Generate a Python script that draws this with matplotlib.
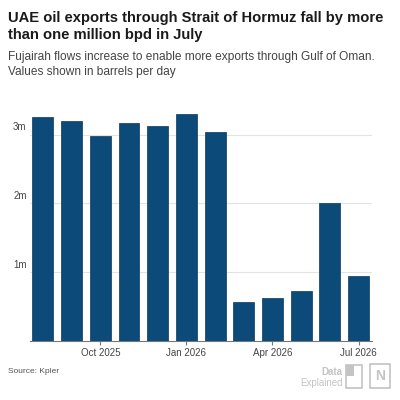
import matplotlib
matplotlib.use("Agg")
import matplotlib.pyplot as plt
from matplotlib.patches import Rectangle
import numpy as np

months = ["Aug 2025", "Sep 2025", "Oct 2025", "Nov 2025", "Dec 2025", "Jan 2026",
          "Feb 2026", "Mar 2026", "Apr 2026", "May 2026", "Jun 2026", "Jul 2026"]
values = [3.25, 3.20, 2.98, 3.17, 3.12, 3.30, 3.03, 0.56, 0.63, 0.73, 2.01, 0.95]  # million bpd
tick_months = ["Oct 2025", "Jan 2026", "Apr 2026", "Jul 2026"]
y_ticks = [1, 2, 3]
y_labels = ["1m", "2m", "3m"]

plt.rcParams['font.family'] = ['Liberation Sans', 'DejaVu Sans']

fig = plt.figure(figsize=(4, 4), dpi=100)
fig.patch.set_facecolor("white")

ax = fig.add_axes([0.075, 0.1475, 0.855, 0.585])
x = np.arange(len(months))
ax.bar(x, values, width=0.73, color="#0b4a79", edgecolor="#08385e", linewidth=0.5, zorder=3)
ax.set_xlim(-0.45, len(months) - 0.53)
ax.set_ylim(0, 3.4)

for sp in ["top", "right", "left"]:
    ax.spines[sp].set_visible(False)
ax.spines["bottom"].set_color("#777777")
ax.spines["bottom"].set_linewidth(0.8)

ax.set_yticks(y_ticks)
ax.set_yticklabels([])
ax.tick_params(axis="y", length=0)
ax.grid(axis="y", color="#e3e3e3", linewidth=0.8, zorder=0)
for yv, lab in zip(y_ticks, y_labels):
    ax.text(-0.01, yv + 0.03, lab, transform=ax.get_yaxis_transform(),
            ha="right", va="bottom", fontsize=7, color="#444444")

tick_pos = [months.index(m) for m in tick_months]
ax.set_xticks(tick_pos)
ax.set_xticklabels(tick_months, fontsize=7, color="#444444")
ax.tick_params(axis="x", length=3, color="#777777", width=0.8, pad=2)

fig.text(0.02, 0.972, "UAE oil exports through Strait of Hormuz fall by more\nthan one million bpd in July",
         ha="left", va="top", fontsize=10.6, fontweight="bold", color="#1a1a1a", linespacing=1.3)
fig.text(0.02, 0.872, "Fujairah flows increase to enable more exports through Gulf of Oman.\nValues shown in barrels per day",
         ha="left", va="top", fontsize=8.6, color="#444444", linespacing=1.35)
fig.text(0.02, 0.072, "Source: Kpler", ha="left", va="center", fontsize=6, color="#555555")

# Logo (decorative)
fig.text(0.857, 0.07, "Data", ha="right", va="center", fontsize=7, color="#c4c4c4", fontweight="bold")
fig.text(0.857, 0.043, "Explained", ha="right", va="center", fontsize=7, color="#c4c4c4")
fig.patches.append(Rectangle((0.864, 0.03), 0.042, 0.058, transform=fig.transFigure,
                             facecolor="none", edgecolor="#c4c4c4", linewidth=1.2))
fig.patches.append(Rectangle((0.864, 0.06), 0.021, 0.028, transform=fig.transFigure,
                             facecolor="#c4c4c4", edgecolor="none"))
fig.patches.append(Rectangle((0.926, 0.03), 0.05, 0.06, transform=fig.transFigure,
                             facecolor="none", edgecolor="#c4c4c4", linewidth=1.2))
fig.text(0.951, 0.06, "N", ha="center", va="center", fontsize=10, color="#c4c4c4", fontweight="bold")

fig.savefig("out.png", dpi=100, facecolor="white")
